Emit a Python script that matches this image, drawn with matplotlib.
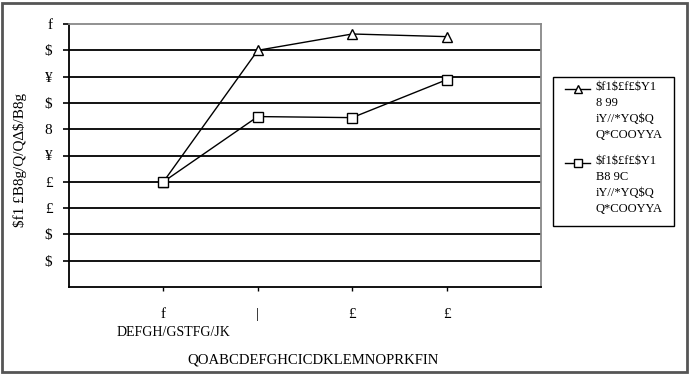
import matplotlib.pyplot as plt
from matplotlib.patches import Rectangle
from matplotlib.lines import Line2D

plt.rcParams['font.family'] = ['Liberation Serif', 'DejaVu Serif']

# categories and series values
categories = ["f", "|", "£", "£"]
series_tri = [4.0, 9.0, 9.62, 9.52]
series_sq = [4.0, 6.48, 6.44, 7.88]
legend_labels = ["$f1$£f£$Y1\n8 99\niY//*YQ$Q\nQ*COOYYA",
                 "$f1$£f£$Y1\nB8 9C\niY//*YQ$Q\nQ*COOYYA"]
y_ticks = [1, 2, 3, 4, 5, 6, 7, 8, 9, 10]
y_ticklabels = ["$", "$", "£", "£", "¥", "8", "$", "¥", "$", "f"]
y_label = "$f1 £B8g/Q/Q∆$/B8g"
x_label_1 = "DEFGH/GSTFG/JK"
x_label_2 = "QOABCDEFGHCICDKLEMNOPRKFIN"

W, H = 695, 375
fig = plt.figure(figsize=(W / 100, H / 100), dpi=100)
ax = fig.add_axes([69 / W, 1 - 287 / H, 472 / W, 263 / H])

xs = list(range(1, len(categories) + 1))
ax.plot(xs, series_tri, color="black", lw=1.0, marker="^", markersize=7,
        markerfacecolor="white", markeredgecolor="black", markeredgewidth=1.0)
ax.plot(xs, series_sq, color="black", lw=1.0, marker="s", markersize=7,
        markerfacecolor="white", markeredgecolor="black", markeredgewidth=1.0)

ax.set_xlim(0, 5)
ax.set_ylim(0, 10)

# horizontal grid lines like the spreadsheet chart
for y in y_ticks[:-1]:
    ax.axhline(y, color="black", lw=1.3, zorder=0)

ax.set_yticks(y_ticks)
ax.set_yticklabels(y_ticklabels, fontsize=11)
ax.set_xticks(xs)
ax.set_xticklabels(categories, fontsize=11)
ax.tick_params(axis="y", length=4, width=1.2, pad=8)
ax.tick_params(axis="x", length=3, width=1.0, pad=12)
for t in ax.get_yticklabels() + ax.get_xticklabels():
    t.set_parse_math(False)

for side in ["left", "bottom"]:
    ax.spines[side].set_color("black")
    ax.spines[side].set_linewidth(1.3)
for side in ["top", "right"]:
    ax.spines[side].set_color("#888888")
    ax.spines[side].set_linewidth(1.3)

fig.text(20 / W, 1 - 160 / H, y_label, rotation=90, va="center", ha="center",
         fontsize=11, parse_math=False)
fig.text(117 / W, 1 - 333 / H, x_label_1, ha="left", va="center", fontsize=10,
         parse_math=False)
fig.text(187 / W, 1 - 360 / H, x_label_2, ha="left", va="center", fontsize=10.6,
         parse_math=False)

# legend box drawn by hand so the keys sit beside the first line of each entry
fig.patches.append(Rectangle((553 / W, 1 - 226 / H), 121 / W, 149 / H,
                             transform=fig.transFigure, fill=False,
                             edgecolor="black", lw=1.0))
key_y = [89, 163]
markers = ["^", "s"]
for ky, mk, lab in zip(key_y, markers, legend_labels):
    fig.add_artist(Line2D([565 / W, 590 / W], [1 - ky / H, 1 - ky / H],
                          transform=fig.transFigure, color="black", lw=1.0))
    fig.add_artist(Line2D([577.5 / W], [1 - ky / H], transform=fig.transFigure,
                          marker=mk, markersize=6, markerfacecolor="white",
                          markeredgecolor="black", color="black"))
    fig.text(596 / W, 1 - (ky - 8) / H, lab, ha="left", va="top", fontsize=9,
             linespacing=1.45, parse_math=False)

# outer chart border
fig.patches.append(Rectangle((0.003, 0.008), 0.986, 0.984, transform=fig.transFigure,
                             fill=False, edgecolor="#555555", lw=2))

fig.savefig("out.png", dpi=100)
